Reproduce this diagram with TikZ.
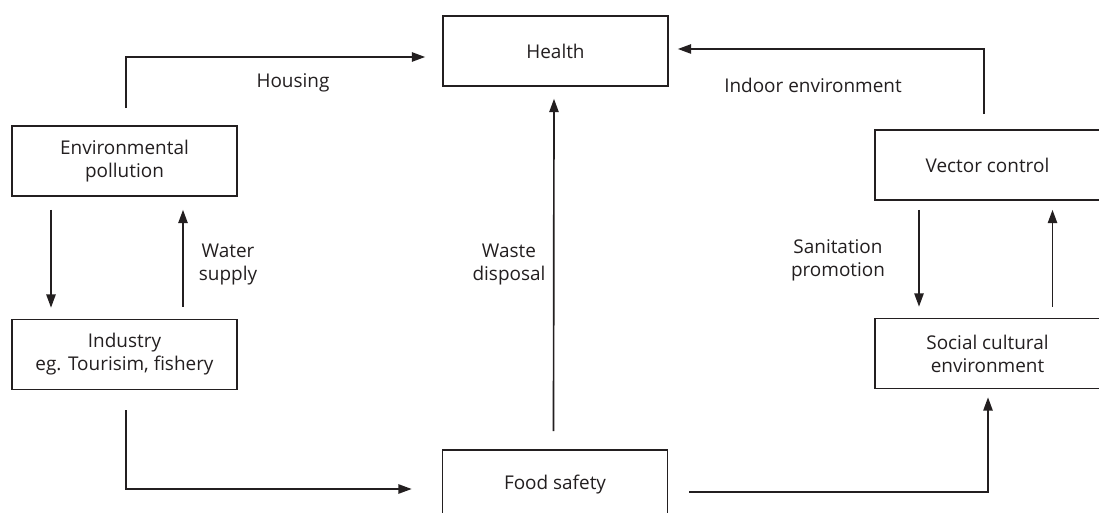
\documentclass[tikz,border=0pt]{standalone}
\usepackage{fontspec}
\setmainfont{Open Sans}
\usetikzlibrary{arrows.meta,calc}
\definecolor{ink}{HTML}{231F20}
\begin{document}
\begin{tikzpicture}[x=0.75pt,y=-0.75pt,
  every node/.style={font=\fontsize{14.2}{17.25}\selectfont, text=ink},
  box/.style={draw=ink, line width=1.25pt, minimum width=168.75pt, minimum height=52.5pt, inner sep=0pt, align=center},
  lbl/.style={align=center},
  arr/.style={draw=ink, line width=1.25pt, -{Triangle[length=10pt,width=7pt]}}]
\clip (0,0) rectangle (1099,513);
\fill[white] (0,0) rectangle (1099,513);

% boxes
\node[box] (health) at (555.5,51) {Health};
\node[box] (env) at (124.5,161) {Environmental\\pollution};
\node[box] (ind) at (124.5,354.5) {Industry\\eg. Tourisim, fishery};
\node[box] (vec) at (987.5,165) {Vector control};
\node[box] (soc) at (987.5,353.5) {Social cultural\\environment};
\node[box] (food) at (555,485) {Food safety};

% connectors
\draw[arr] ($(env.north)+(1.5,-17)$) |- ($(health.west)+(-17,6)$);
\draw[arr] ($(vec.north)+(-3.5,-15)$) |- ($(health.east)+(9,-2)$);
\draw[arr] ($(env.south)+(-73.5,13)$) -- ($(ind.north)+(-73.5,-11)$);
\draw[arr] ($(ind.north)+(58.5,-12)$) -- ($(env.south)+(58.5,13)$);
\draw[arr] ($(food.north)+(-1.5,-18)$) -- ($(health.south)+(-1.5,12)$);
\draw[arr] ($(vec.south)+(-68.5,9)$) -- ($(soc.north)+(-68.5,-11)$);
\draw[arr] ($(soc.north)+(65,-11)$) -- ($(vec.south)+(65,9)$);
\draw[arr] ($(ind.south)+(1.5,20)$) |- ($(food.west)+(-30,4)$);
\draw[arr] ($(food.east)+(21,7)$) -| ($(soc.south)+(0.5,8)$);

% labels
\node[lbl] (lhousing) at (293,83) {Housing};
\node[lbl] (lindoor) at (813,85) {Indoor environment};
\node[lbl] (lwater) at (228,265) {Water\\supply};
\node[lbl] (lwaste) at (509,265) {Waste\\disposal};
\node[lbl] (lsan) at (838,260) {Sanitation\\promotion};
\end{tikzpicture}
\end{document}
